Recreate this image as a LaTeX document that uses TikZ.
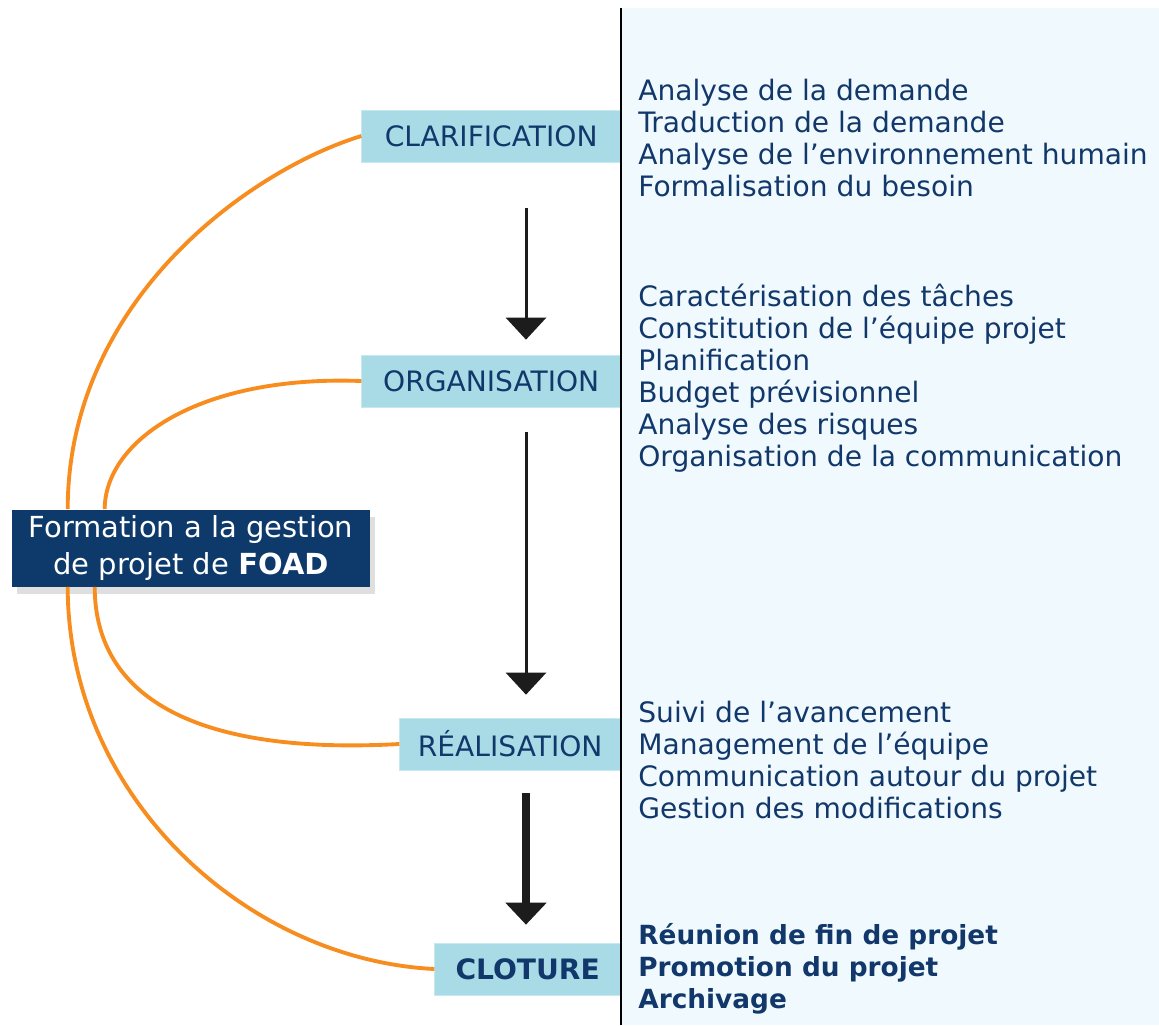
\documentclass[tikz,border=0pt]{standalone}
\usepackage{fontspec}
\setmainfont{DejaVu Sans}
\usetikzlibrary{arrows.meta, positioning, calc, shadows}
\definecolor{navy}{HTML}{0D3A6B}
\definecolor{textblue}{HTML}{12386B}
\definecolor{boxblue}{HTML}{A8DBE6}
\definecolor{boxedge}{HTML}{C6E9F0}
\definecolor{panelblue}{HTML}{F0FAFE}
\definecolor{orangeline}{HTML}{F78D1E}
\definecolor{arrowgray}{HTML}{1C1C1C}

\begin{document}
\begin{tikzpicture}[x=0.02cm, y=-0.02cm]
    \tikzstyle{phase} = [draw=boxedge, fill=boxblue, text=textblue, anchor=east, minimum height=1.04cm, inner sep=0pt, font=\fontsize{16}{19}\selectfont]
    \tikzstyle{tasks} = [anchor=west, align=left, inner sep=0pt, text=textblue, font=\fontsize{16}{18.2}\selectfont]
    \tikzstyle{link} = [draw=orangeline, line width=2.2pt]
    \tikzstyle{flow} = [draw=arrowgray, fill=arrowgray, -{Triangle[width=0.8cm, length=0.44cm]}, line width=1.7pt]
    \useasboundingbox (0,0) rectangle (1159,1025);
    \fill[panelblue] (621,8) rectangle (1159,1025);

    \node [phase, minimum width=5.18cm] at (621,136) (clarif) {CLARIFICATION};
    \node [phase, minimum width=5.18cm] at (621,381) (organ) {ORGANISATION};
    \node [phase, minimum width=4.42cm] at (621,744) (real) {RÉALISATION};
    \node [phase, minimum width=3.72cm, font=\fontsize{16}{19}\selectfont\bfseries] at (621,969) (clot) {CLOTURE};

    \node [tasks] at (638,138) (t1) {Analyse de la demande\\Traduction de la demande\\Analyse de l’environnement humain\\Formalisation du besoin};
    \node [tasks] at (638,378) (t2) {Caractérisation des tâches\\Constitution de l’équipe projet\\Planification\\Budget prévisionnel\\Analyse des risques\\Organisation de la communication};
    \node [tasks] at (638,760) (t3) {Suivi de l’avancement\\Management de l’équipe\\Communication autour du projet\\Gestion des modifications};
    \node [tasks, font=\fontsize{15}{18.2}\selectfont\bfseries] at (638,969) (t4) {Réunion de fin de projet\\Promotion du projet\\Archivage};

    \node [fill=navy, text=white, align=center, minimum width=7.16cm, minimum height=1.54cm, inner sep=0pt, font=\fontsize{16.5}{21.6}\selectfont, drop shadow={shadow xshift=3pt, shadow yshift=-4pt, fill=black!25}] at (191,548) (foad) {Formation a la gestion\\de projet de \textbf{FOAD}};

    \draw[link] ($(foad.north west)+(56,0)$) .. controls (68,300) and (250,170) .. (clarif.west);
    \draw[link] ($(foad.north west)+(93,0)$) .. controls (105,440) and (200,375) .. (organ.west);
    \draw[link] ($(foad.south west)+(83,0)$) .. controls (95,700) and (200,755) .. (real.west);
    \draw[link] ($(foad.south west)+(56,0)$) .. controls (68,800) and (250,960) .. (clot.west);

    \coordinate (ax) at (526,0);
    \draw[flow, shorten <=0.92cm, shorten >=0.3cm] (clarif.south -| ax) -- (organ.north -| ax);
    \draw[flow, shorten <=0.5cm, shorten >=0.46cm] (organ.south -| ax) -- (real.north -| ax);
    \draw[flow, line width=4.5pt, shorten <=0.46cm, shorten >=0.36cm] (real.south -| ax) -- (clot.north -| ax);

    \draw[line width=1.1pt] (621,8) -- (621,1025);
\end{tikzpicture}
\end{document}
